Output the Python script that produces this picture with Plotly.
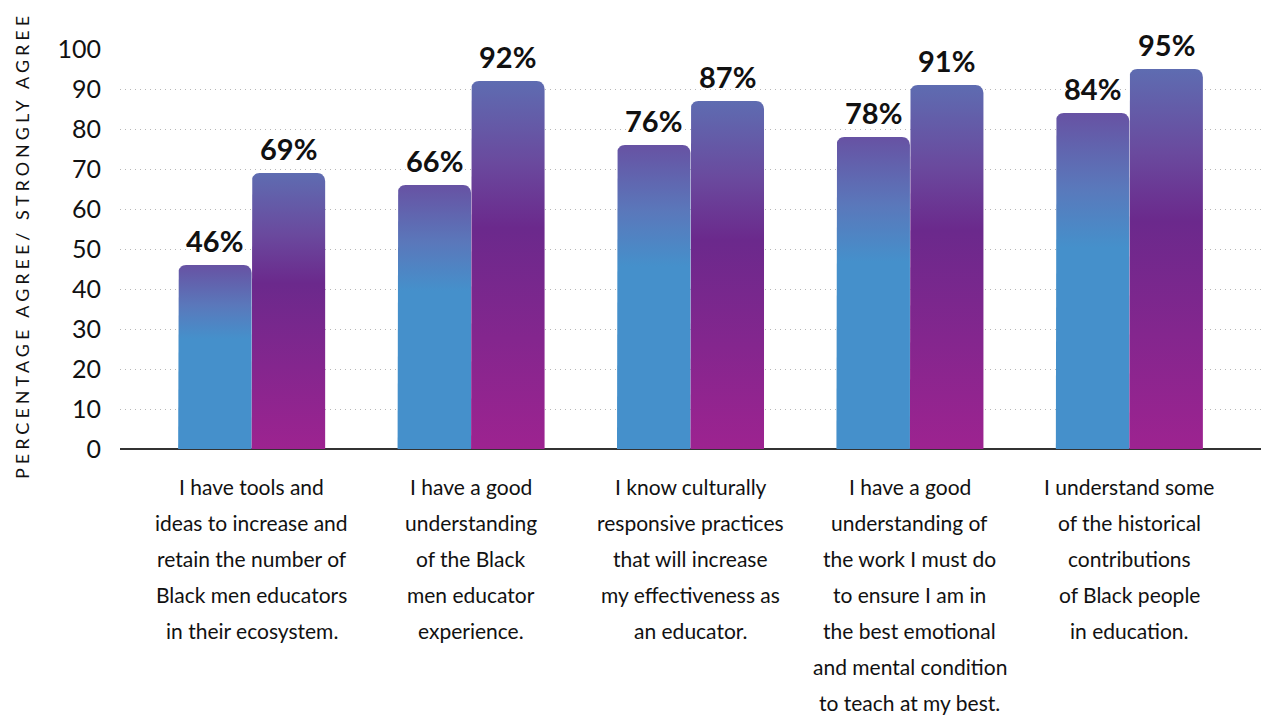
import plotly.graph_objects as go

categories = [
    ["I have tools and", "ideas to increase and", "retain the number of", "Black men educators", "in their ecosystem."],
    ["I have a good", "understanding", "of the Black", "men educator", "experience."],
    ["I know culturally", "responsive practices", "that will increase", "my effectiveness as", "an educator."],
    ["I have a good", "understanding of", "the work I must do", "to ensure I am in", "the best emotional", "and mental condition", "to teach at my best."],
    ["I understand some", "of the historical", "contributions", "of Black people", "in education."],
]
series_a = [46, 66, 76, 78, 84]
series_b = [69, 92, 87, 91, 95]
y_ticks = [0, 10, 20, 30, 40, 50, 60, 70, 80, 90, 100]

FONT = "Lato"
scale_a = [[0, "#4590cb"], [0.6, "#4590cb"], [0.78, "#5a78bb"], [1, "#6752a3"]]
scale_b = [[0, "#9d2390"], [0.6, "#6b298c"], [0.78, "#6a4a9e"], [1, "#5e6cb1"]]

BW = 0.335   # bar width in category units
RX, RY = 0.036, 2.0  # corner radius in data units


def bar_path(x0, x1, h, n=8):
    import math
    xs, ys = [x0], [0]
    rx, ry = RX, min(RY, h / 2)
    for i in range(n + 1):
        t = math.pi - (math.pi / 2) * i / n
        xs.append(x0 + rx + rx * math.cos(t))
        ys.append(h - ry + ry * math.sin(t))
    for i in range(n + 1):
        t = math.pi / 2 - (math.pi / 2) * i / n
        xs.append(x1 - rx + rx * math.cos(t))
        ys.append(h - ry + ry * math.sin(t))
    xs += [x1, x0]
    ys += [0, 0]
    return xs, ys


fig = go.Figure()
for i, (a, b) in enumerate(zip(series_a, series_b)):
    for val, x0, x1, cs in [(a, i - BW, i, scale_a), (b, i, i + BW, scale_b)]:
        xs, ys = bar_path(x0, x1, val)
        fig.add_trace(go.Scatter(
            x=xs, y=ys, mode="lines", fill="toself",
            line=dict(width=0, color="rgba(0,0,0,0)"),
            fillgradient=dict(type="vertical", colorscale=cs),
            hoverinfo="skip", showlegend=False,
        ))
        fig.add_annotation(
            x=(x0 + x1) / 2, y=val, xref="x", yref="y",
            text=f"<b>{val}%</b>", showarrow=False,
            yanchor="bottom", yshift=5,
            font=dict(family=FONT, size=29, color="#111111"),
        )

for i, lines in enumerate(categories):
    for j, line in enumerate(lines):
        fig.add_annotation(
            x=i, y=0, xref="x", yref="y", text=line, showarrow=False,
            yanchor="middle", yshift=-37 - 36 * j,
            font=dict(family=FONT, size=21, color="#111111"),
        )

fig.add_annotation(
    x=-0.0859, y=0.51, xref="paper", yref="paper", textangle=-90,
    xanchor="center", yanchor="middle",
    text='<span style="letter-spacing:4px">PERCENTAGE AGREE/ STRONGLY AGREE</span>',
    showarrow=False, font=dict(family=FONT, size=18, color="#111111"),
)

fig.update_layout(
    width=1262, height=717,
    margin=dict(l=120, r=1, t=49, b=268),
    paper_bgcolor="white", plot_bgcolor="white",
    xaxis=dict(range=[-0.6, 4.6], showticklabels=False, showgrid=False,
               zeroline=False, showline=False, fixedrange=True),
    yaxis=dict(range=[0, 100], tickvals=y_ticks, showgrid=True,
               gridcolor="#b8b8b8", griddash="1px,4px", gridwidth=1,
               zeroline=True, zerolinecolor="#333333", zerolinewidth=1.5,
               ticks="", ticklabelstandoff=18,
               tickfont=dict(family=FONT, size=25, color="#111111")),
)

fig.write_html("out.html")
